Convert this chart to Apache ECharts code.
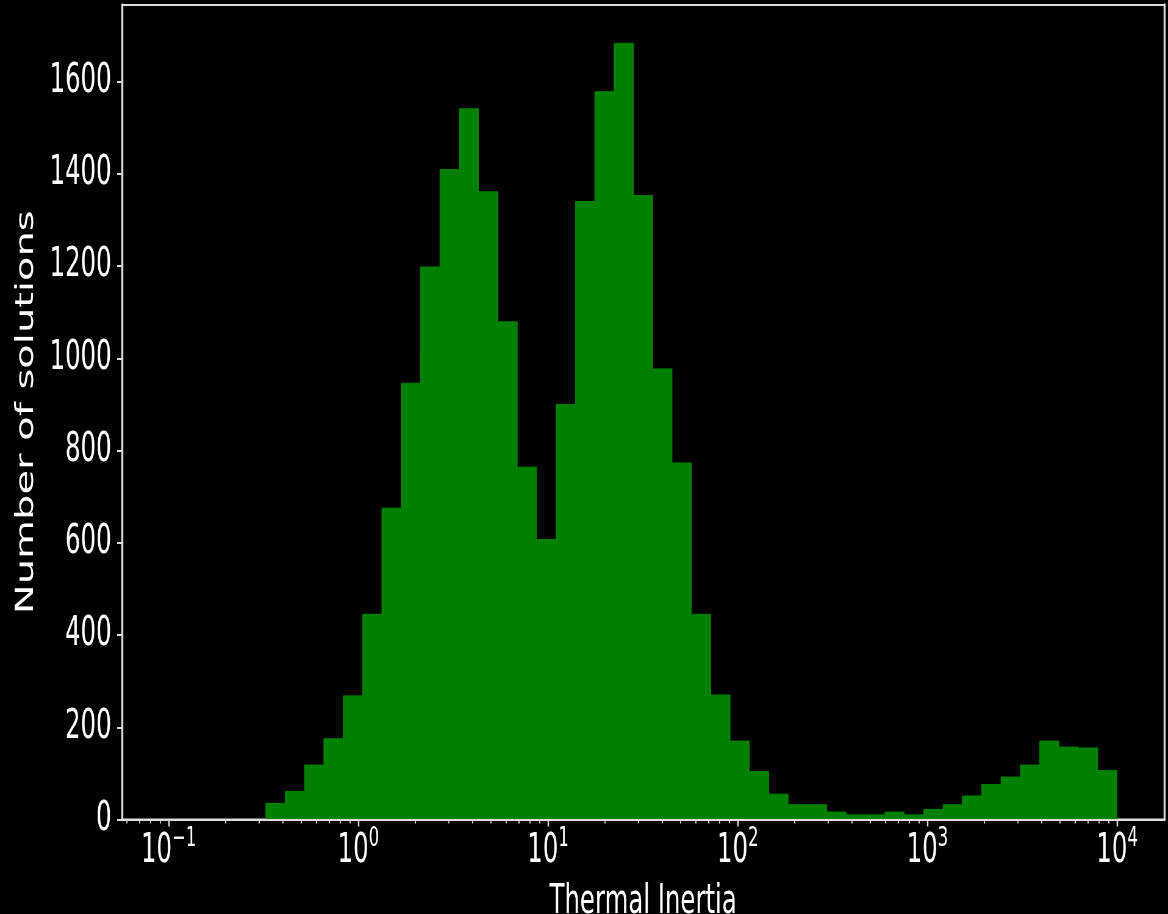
<!DOCTYPE html>
<html>
<head>
<meta charset="utf-8">
<title>Thermal Inertia histogram</title>
<script src="https://cdn.jsdelivr.net/npm/echarts@6/dist/echarts.min.js"></script>
<style>
  html, body { margin: 0; padding: 0; background: #000; overflow: hidden; }
  /* the original figure is squeezed horizontally, so draw wide and scale */
  #chart { width: 1915px; height: 914px; transform: scaleX(0.6099); transform-origin: 0 0; }
</style>
</head>
<body>
<div id="chart"></div>
<script>
// counts per bin, bins are evenly spaced in log10(TI)
const counts = [
  35, 61, 118, 175, 268, 445, 675, 946, 1198, 1409, 1541,
  1361, 1079, 764, 607, 900, 1340, 1578, 1683, 1353, 977,
  773, 445, 270, 170, 104, 55, 32, 32, 16, 10, 10, 16, 10,
  22, 32, 51, 76, 92, 118, 170, 157, 155, 106,
];
const binLogMin = -0.488;
const binLogMax = 4.0;

const xLogMin = -1.246;
const xLogMax = 4.249;
const decades = [-1, 0, 1, 2, 3, 4];
const yTicks = [0, 200, 400, 600, 800, 1000, 1200, 1400, 1600];
const yMax = 1766;

const TEXT = "#ffffff";
const SPINE = "#dddddd";
const BAR = "#008000";
const FONT = '"DejaVu Sans", Verdana, sans-serif';

const step = (binLogMax - binLogMin) / counts.length;
const bins = counts.map((c, i) => [binLogMin + i * step, binLogMin + (i + 1) * step, c]);

// minor ticks at 2..9 x 10^n
const minorTicks = [];
for (let n = -2; n <= 4; n++) {
  for (let k = 2; k <= 9; k++) {
    const v = n + Math.log10(k);
    if (v > xLogMin && v < xLogMax) minorTicks.push(v);
  }
}

function supLabel(v) {
  const exp = String(Math.round(v)).replace("-", "\u2212");
  return "{b|10}{s|" + exp + "}";
}

const chart = echarts.init(document.getElementById("chart"), null, { renderer: "canvas" });

chart.setOption({
  backgroundColor: "#000",
  animation: false,
  grid: {
    left: 200,
    right: 6,
    top: 5,
    bottom: 94.5,
    outerBoundsMode: "none",
    show: true,
    borderColor: SPINE,
    borderWidth: 2,
    backgroundColor: "transparent",
  },
  xAxis: [
    {
      type: "value",
      min: xLogMin,
      max: xLogMax,
      z: 5,
      splitLine: { show: false },
      axisLine: { show: true, onZero: false, lineStyle: { color: SPINE, width: 2 } },
      axisTick: { show: true, customValues: decades, length: 7, lineStyle: { color: SPINE, width: 2.4 } },
      axisLabel: {
        customValues: decades,
        margin: 6,
        formatter: supLabel,
        rich: {
          b: { fontSize: 40, fontFamily: FONT, color: TEXT, lineHeight: 52 },
          s: { fontSize: 27, fontFamily: FONT, color: TEXT, lineHeight: 27, verticalAlign: "top" },
        },
      },
      name: "Thermal Inertia",
      nameLocation: "middle",
      nameGap: 63,
      nameTextStyle: { fontSize: 40, fontFamily: FONT, color: TEXT },
    },
    {
      type: "value",
      min: xLogMin,
      max: xLogMax,
      position: "bottom",
      z: 5,
      splitLine: { show: false },
      axisLine: { show: false },
      axisLabel: { show: false },
      axisTick: { show: true, customValues: minorTicks, length: 4, lineStyle: { color: SPINE, width: 1.8 } },
    },
  ],
  yAxis: [
    {
      type: "value",
      min: 0,
      max: yMax,
      interval: 200,
      z: 5,
      splitLine: { show: false },
      axisLine: { show: true, onZero: false, lineStyle: { color: SPINE, width: 3.3 } },
      axisTick: { show: true, customValues: yTicks, length: 8, lineStyle: { color: SPINE, width: 2 } },
      axisLabel: {
        customValues: yTicks,
        margin: 17,
        fontSize: 40,
        fontFamily: FONT,
        color: TEXT,
        formatter: (v) => String(v),
      },
      name: "Number of solutions",
      nameLocation: "middle",
      nameGap: 136,
      nameRotate: 90,
      nameTextStyle: { fontSize: 40, fontFamily: FONT, color: TEXT },
    },
    {
      type: "value",
      min: 0,
      max: yMax,
      position: "right",
      z: 5,
      splitLine: { show: false },
      axisLine: { show: true, onZero: false, lineStyle: { color: SPINE, width: 3.3 } },
      axisTick: { show: false },
      axisLabel: { show: false },
    },
  ],
  series: [
    {
      type: "custom",
      xAxisIndex: 0,
      yAxisIndex: 0,
      z: 1,
      clip: true,
      data: bins,
      encode: { x: [0, 1], y: 2 },
      renderItem(params, api) {
        const top = api.coord([api.value(0), api.value(2)]);
        const base = api.coord([api.value(1), 0]);
        return {
          type: "rect",
          shape: { x: top[0], y: top[1], width: base[0] - top[0], height: base[1] - top[1] },
          style: { fill: BAR, stroke: BAR, lineWidth: 1 },
        };
      },
    },
  ],
});
</script>
</body>
</html>
